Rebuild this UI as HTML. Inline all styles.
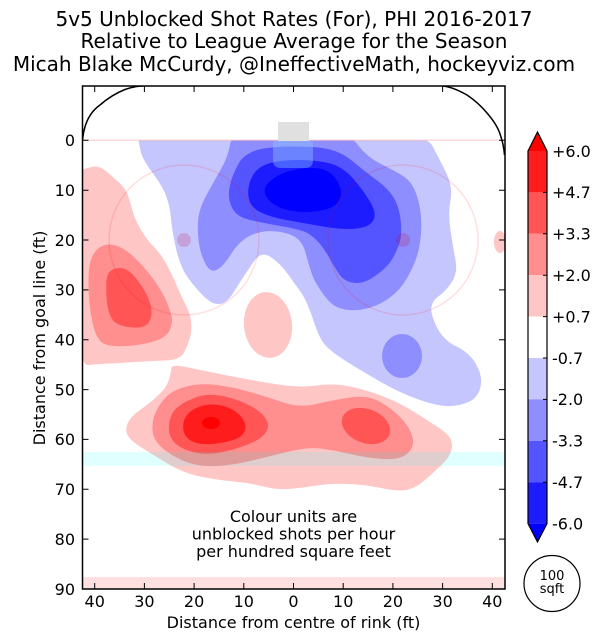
<!DOCTYPE html>
<html><head><meta charset="utf-8"><style>
html,body{margin:0;padding:0;background:#fff;}
svg{display:block;}
text{font-family:"DejaVu Sans","Liberation Sans",sans-serif;fill:#000;}
.mono{font-family:"DejaVu Sans Mono","Liberation Mono",monospace;}
</style></head><body>
<svg id="chart" width="602" height="641" viewBox="0 0 602 641" xmlns="http://www.w3.org/2000/svg">
<defs>
<clipPath id="pc"><rect x="83" y="140.5" width="422" height="448.5"/></clipPath>
<clipPath id="pa"><rect x="83" y="86" width="422" height="503"/></clipPath>
</defs>
<rect width="602" height="641" fill="#fff"/>

<!-- Title -->
<text x="294" y="26" font-size="20" text-anchor="middle">5v5 Unblocked Shot Rates (For), PHI 2016-2017</text>
<text x="294" y="48" font-size="20" text-anchor="middle">Relative to League Average for the Season</text>
<text x="294" y="71" font-size="20" text-anchor="middle">Micah Blake McCurdy, @IneffectiveMath, hockeyviz.com</text>

<g clip-path="url(#pc)" stroke-linejoin="round">
<!-- Blue: level -0.7..-2.0 -->
<polygon class="sm" fill="#c6c6ff" points="138,132 300,128 425,132 440,160 453,187 448,213 453,247 458,273 445,292 433,300 430,313 443,340 470,353 483,377 478,397 463,405 440,407 400,393 360,370 333,353 320,340 310,310 303,295 297,287 283,267 270,256 263,254 257,257 250,267 240,282 227,303 213,305 197,290 180,267 172,230 170,207 163,187 143,160 139,145"/>
<!-- -2.0..-3.3 -->
<polygon class="sm" fill="#8e8eff" points="232,132 290,128 348,132 367,157 393,170 410,180 418,197 422,220 420,247 413,268 400,290 380,305 357,311 340,309 330,303 320,290 313,278 308,262 303,243 290,233 263,230 240,240 223,267 210,273 200,253 197,227 200,207 213,183 228,157"/>
<ellipse cx="402" cy="356" rx="20" ry="22" fill="#8e8eff"/>
<!-- -3.3..-4.7 -->
<polygon class="sm" fill="#5555ff" points="243,156 263,147 317,146 343,153 363,170 390,190 400,210 402,237 395,255 387,267 370,280 357,284 343,280 335,268 325,250 315,238 303,230 263,223 237,217 228,200 230,183 236,168"/>
<!-- -4.7..-6.0 -->
<polygon class="sm" fill="#1c1cff" points="247,187 257,167 280,160 317,160 343,167 363,190 377,213 370,227 343,230 303,223 270,217 250,207"/>
<!-- < -6.0 -->
<polygon class="sm" fill="#0000ff" points="263,187 280,173 307,167 330,170 343,190 337,207 310,213 283,210 267,200"/>

<!-- Red left -->
<polygon class="sm" fill="#ffc6c6" points="76,172 90,167 100,166 113,177 127,190 133,213 137,223 147,240 160,253 170,270 183,300 190,313 192,330 188,345 180,360 150,361 120,363 100,364 76,366"/>
<polygon class="sm" fill="#ff8e8e" points="88,280 90,260 97,248 110,243 127,250 147,270 163,293 170,310 173,322 167,337 143,345 110,347 97,340 90,313"/>
<polygon class="sm" fill="#ff5555" points="106,287 107,273 117,267 130,270 147,293 153,313 147,327 130,328 113,323 107,307"/>
<!-- middle small red -->
<ellipse cx="268" cy="325" rx="24" ry="33" fill="#ffc6c6" transform="rotate(-6 268 325)"/>
<!-- right edge small red -->
<ellipse cx="500" cy="242" rx="6" ry="11" fill="#ffc6c6"/>
<!-- Lower red -->
<polygon class="sm" fill="#ffc6c6" points="172,364 200,370 250,380 300,388 333,383 367,390 400,403 427,420 447,433 453,443 450,457 433,473 417,487 400,492 367,485 333,483 300,488 277,490 250,483 217,480 183,473 150,453 130,440 125,430 130,417 150,403 167,387 171,372"/>
<polygon class="sm" fill="#ff8e8e" points="160,403 173,390 200,383 233,387 267,397 300,408 333,400 367,395 390,407 410,427 415,447 400,460 367,458 333,450 307,447 267,457 233,465 200,467 173,457 153,440 152,420"/>
<polygon class="sm" fill="#ff5555" points="170,413 187,400 210,393 240,400 263,413 270,427 260,440 233,450 207,455 183,450 168,437"/>
<ellipse cx="366" cy="426" rx="25" ry="17" fill="#ff5555" transform="rotate(20 366 426)"/>
<polygon class="sm" fill="#ff1c1c" points="182,423 190,410 210,403 233,408 247,423 243,437 223,443 200,445 185,438"/>
<ellipse cx="211" cy="423" rx="9" ry="6" fill="#ff0000"/>
</g>

<g clip-path="url(#pa)">
<!-- rink overlays -->
<rect x="83" y="452" width="422" height="14" fill="rgba(0,255,255,0.12)"/>
<rect x="83" y="577" width="422" height="12" fill="rgba(255,0,0,0.12)"/>
<line x1="83" y1="140.3" x2="505" y2="140.3" stroke="rgba(255,0,0,0.15)" stroke-width="1.5"/>
<circle cx="184" cy="240" r="75" fill="none" stroke="rgba(255,0,0,0.12)" stroke-width="1.5"/>
<circle cx="403" cy="240" r="75" fill="none" stroke="rgba(255,0,0,0.12)" stroke-width="1.5"/>
<circle cx="184" cy="240" r="7" fill="rgba(200,0,50,0.18)"/>
<circle cx="403" cy="240" r="7" fill="rgba(200,0,50,0.18)"/>
<rect x="278" y="122" width="31" height="19" fill="#e0e0e0"/>
<path d="M273,141 L313,141 L313,160 Q313,168 305,168 L281,168 Q273,168 273,160 Z" fill="rgba(140,200,255,0.4)"/>
<!-- boards -->
<path d="M82.5,140 C84,124 90,112 100,105 C108,98 116,93 125,89.5 C132,87 138,86 143,86" fill="none" stroke="#000" stroke-width="1.5"/>
<path d="M443,86 C452,87 460,91 467,95 C476,101 482,107 487,113 C494,121 499,129 501,137 C503,143 504,149 504.5,155" fill="none" stroke="#000" stroke-width="1.5"/>
</g>

<!-- frame -->
<rect x="82.5" y="86" width="422.5" height="503" fill="none" stroke="#000" stroke-width="1.5"/>
<!-- ticks -->
<g stroke="#000" stroke-width="1">
<path d="M94.7,86v6M144.4,86v6M194.1,86v6M243.8,86v6M293.5,86v6M343.2,86v6M392.9,86v6M442.6,86v6M492.3,86v6"/>
<path d="M94.7,589v-6M144.4,589v-6M194.1,589v-6M243.8,589v-6M293.5,589v-6M343.2,589v-6M392.9,589v-6M442.6,589v-6M492.3,589v-6"/>
<path d="M82.5,140.3h6M82.5,190.2h6M82.5,240h6M82.5,289.9h6M82.5,339.7h6M82.5,389.6h6M82.5,439.4h6M82.5,489.3h6M82.5,539.1h6"/>
<path d="M505,140.3h-6M505,190.2h-6M505,240h-6M505,289.9h-6M505,339.7h-6M505,389.6h-6M505,439.4h-6M505,489.3h-6M505,539.1h-6"/>
</g>
<!-- x tick labels -->
<g font-size="16" text-anchor="middle">
<text x="94.7" y="607">40</text><text x="144.4" y="607">30</text><text x="194.1" y="607">20</text><text x="243.8" y="607">10</text><text x="293.5" y="607">0</text><text x="343.2" y="607">10</text><text x="392.9" y="607">20</text><text x="442.6" y="607">30</text><text x="492.3" y="607">40</text>
</g>
<!-- y tick labels -->
<g font-size="16" text-anchor="end">
<text x="75" y="146.1">0</text><text x="75" y="196">10</text><text x="75" y="245.8">20</text><text x="75" y="295.7">30</text><text x="75" y="345.5">40</text><text x="75" y="395.4">50</text><text x="75" y="445.2">60</text><text x="75" y="495.1">70</text><text x="75" y="544.9">80</text><text x="75" y="594.8">90</text>
</g>
<text x="293.5" y="628" font-size="16" text-anchor="middle">Distance from centre of rink (ft)</text>
<text transform="translate(45,338) rotate(-90)" font-size="16" text-anchor="middle">Distance from goal line (ft)</text>

<!-- in-plot note -->
<g font-size="16" text-anchor="middle">
<text x="293.5" y="522">Colour units are</text>
<text x="293.5" y="539.5">unblocked shots per hour</text>
<text x="293.5" y="557">per hundred square feet</text>
</g>

<!-- colorbar -->
<polygon points="528,151 537.5,132 547,151" fill="#ff0000"/>
<rect x="528" y="151" width="19" height="41.4" fill="#ff1c1c"/>
<rect x="528" y="192.4" width="19" height="41.4" fill="#ff5555"/>
<rect x="528" y="233.8" width="19" height="41.4" fill="#ff8e8e"/>
<rect x="528" y="275.2" width="19" height="41.4" fill="#ffc6c6"/>
<rect x="528" y="316.6" width="19" height="41.4" fill="#ffffff"/>
<rect x="528" y="358" width="19" height="41.4" fill="#c6c6ff"/>
<rect x="528" y="399.4" width="19" height="41.4" fill="#8e8eff"/>
<rect x="528" y="440.8" width="19" height="41.4" fill="#5555ff"/>
<rect x="528" y="482.2" width="19" height="41.4" fill="#1c1cff"/>
<polygon points="528,523.6 537.5,542 547,523.6" fill="#0000ff"/>
<polygon points="528,151 537.5,132 547,151 547,523.6 537.5,542 528,523.6" fill="none" stroke="#000" stroke-width="1.2"/>
<path d="M547,192.4h-4M547,233.8h-4M547,275.2h-4M547,316.6h-4M547,358h-4M547,399.4h-4M547,440.8h-4M547,482.2h-4" stroke="#000" stroke-width="1"/>
<g class="mono" font-size="16">
<text x="552" y="156.8">+6.0</text>
<text x="552" y="198.2">+4.7</text>
<text x="552" y="239.6">+3.3</text>
<text x="552" y="281">+2.0</text>
<text x="552" y="322.4">+0.7</text>
<text x="552" y="363.8">-0.7</text>
<text x="552" y="405.2">-2.0</text>
<text x="552" y="446.6">-3.3</text>
<text x="552" y="488">-4.7</text>
<text x="552" y="529.4">-6.0</text>
</g>

<!-- 100 sqft circle -->
<circle cx="552" cy="583.5" r="28" fill="#fff" stroke="#000" stroke-width="1.2"/>
<text x="552" y="580" font-size="13" text-anchor="middle">100</text>
<text x="552" y="593" font-size="13" text-anchor="middle">sqft</text>
</svg>
<script>
(function(){
  var NS="http://www.w3.org/2000/svg";
  var polys=document.querySelectorAll("polygon.sm");
  for(var k=0;k<polys.length;k++){
    var p=polys[k];
    var raw=p.getAttribute("points").trim().split(/\s+/);
    var pts=raw.map(function(s){var a=s.split(",");return [parseFloat(a[0]),parseFloat(a[1])];});
    var n=pts.length;
    function mid(a,b){return [(a[0]+b[0])/2,(a[1]+b[1])/2];}
    var m0=mid(pts[n-1],pts[0]);
    var d="M"+m0[0].toFixed(2)+","+m0[1].toFixed(2);
    for(var i=0;i<n;i++){
      var m=mid(pts[i],pts[(i+1)%n]);
      d+=" Q"+pts[i][0]+","+pts[i][1]+" "+m[0].toFixed(2)+","+m[1].toFixed(2);
    }
    d+="Z";
    var path=document.createElementNS(NS,"path");
    path.setAttribute("d",d);
    path.setAttribute("fill",p.getAttribute("fill"));
    p.parentNode.replaceChild(path,p);
  }
})();
</script>
</body></html>
